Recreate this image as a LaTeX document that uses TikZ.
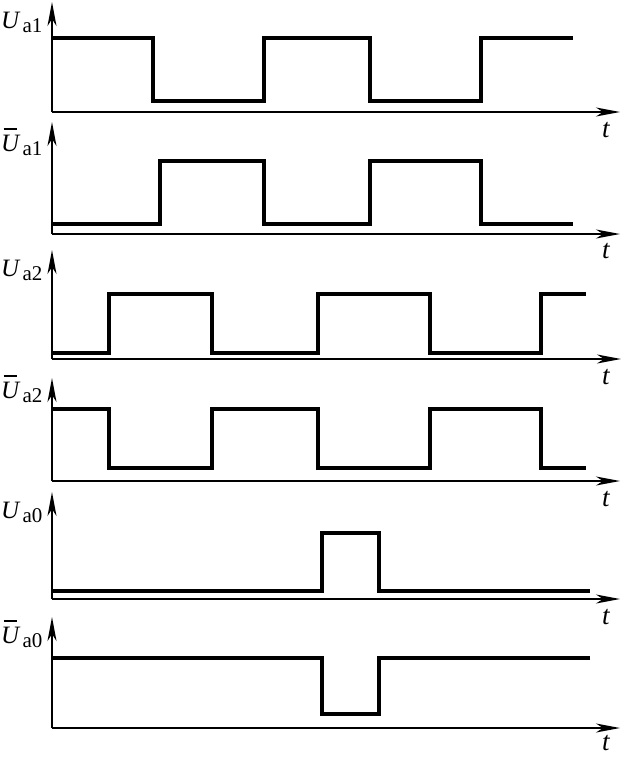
\documentclass[tikz,border=0pt]{standalone}
\usepackage{fontspec}
\setmainfont{Liberation Serif}
\usetikzlibrary{arrows.meta}
\newcommand{\Ulab}[1]{{\fontsize{25}{25}\selectfont\textit{U}}\hspace{2pt}\raisebox{-4pt}{\fontsize{21}{21}\selectfont #1}}
\newcommand{\Ubar}[1]{{\fontsize{25}{25}\selectfont\makebox[0pt][l]{\hspace{0.1em}\raisebox{0.86em}{\rule{0.55em}{0.06em}}}\textit{U}}\hspace{2pt}\raisebox{-4pt}{\fontsize{21}{21}\selectfont #1}}
\tikzset{
  axis/.style={line width=1.8pt, -{Stealth[length=24pt,width=9pt,inset=7pt]}},
  wave/.style={line width=3.4pt, line join=miter, line cap=butt},
  lab/.style={anchor=base west, inner sep=0pt},
  tlab/.style={anchor=base west, inner sep=0pt, font=\fontsize{27}{27}\selectfont\itshape}
}
\begin{document}
\begin{tikzpicture}[x=1pt,y=-1pt]
\useasboundingbox (0,0) rectangle (628,757);
% panel 1
\coordinate (o1) at (52,112); \coordinate (y1) at (52,2); \coordinate (x1) at (620,112);
\draw[axis] (o1) -- (y1); \draw[axis] (o1) -- (x1);
\node[lab] (l1) at (1,29) {\Ulab{a1}};
\node[tlab] (t1) at (602,138) {t};
\draw[wave] (52,38) -- (153,38) -- (153,101) -- (264,101) -- (264,38) -- (370,38) -- (370,101) -- (481,101) -- (481,38) -- (573,38);
% panel 2
\coordinate (o2) at (52,234); \coordinate (y2) at (52,122); \coordinate (x2) at (620,234);
\draw[axis] (o2) -- (y2); \draw[axis] (o2) -- (x2);
\node[lab] (l2) at (1,151) {\Ubar{a1}};
\node[tlab] (t2) at (602,258) {t};
\draw[wave] (52,224) -- (160,224) -- (160,161) -- (264,161) -- (264,224) -- (370,224) -- (370,161) -- (481,161) -- (481,224) -- (573,224);
% panel 3
\coordinate (o3) at (52,359); \coordinate (y3) at (52,250); \coordinate (x3) at (621,359);
\draw[axis] (o3) -- (y3); \draw[axis] (o3) -- (x3);
\node[lab] (l3) at (1,276) {\Ulab{a2}};
\node[tlab] (t3) at (602,384) {t};
\draw[wave] (52,353) -- (109,353) -- (109,294) -- (212,294) -- (212,353) -- (318,353) -- (318,294) -- (430,294) -- (430,353) -- (541,353) -- (541,294) -- (586,294);
% panel 4
\coordinate (o4) at (52,481); \coordinate (y4) at (52,378); \coordinate (x4) at (620,481);
\draw[axis] (o4) -- (y4); \draw[axis] (o4) -- (x4);
\node[lab] (l4) at (1,398) {\Ubar{a2}};
\node[tlab] (t4) at (602,506) {t};
\draw[wave] (52,409) -- (109,409) -- (109,468) -- (212,468) -- (212,409) -- (318,409) -- (318,468) -- (430,468) -- (430,409) -- (541,409) -- (541,468) -- (586,468);
% panel 5
\coordinate (o5) at (52,599); \coordinate (y5) at (52,492); \coordinate (x5) at (620,599);
\draw[axis] (o5) -- (y5); \draw[axis] (o5) -- (x5);
\node[lab] (l5) at (1,518) {\Ulab{a0}};
\node[tlab] (t5) at (602,624) {t};
\draw[wave] (52,591) -- (322,591) -- (322,533) -- (379,533) -- (379,591) -- (590,591);
% panel 6
\coordinate (o6) at (52,728); \coordinate (y6) at (52,617); \coordinate (x6) at (620,728);
\draw[axis] (o6) -- (y6); \draw[axis] (o6) -- (x6);
\node[lab] (l6) at (1,643) {\Ubar{a0}};
\node[tlab] (t6) at (602,750) {t};
\draw[wave] (52,658) -- (322,658) -- (322,714) -- (379,714) -- (379,658) -- (590,658);
\end{tikzpicture}
\end{document}
